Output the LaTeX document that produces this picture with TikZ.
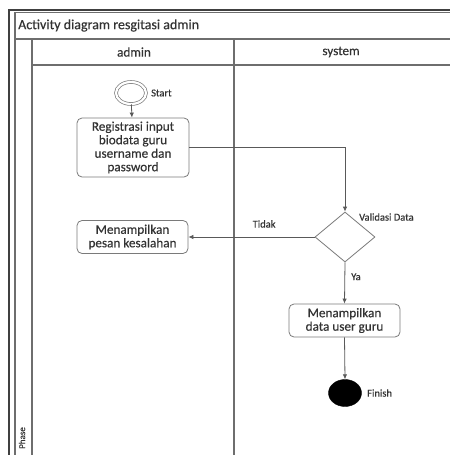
\documentclass[tikz,border=0pt]{standalone}
\usepackage{fontspec}
\setmainfont{Carlito}[FakeBold=0.35]
\usetikzlibrary{shapes.geometric,arrows.meta}
\definecolor{linegray}{HTML}{6E6E6E}
\definecolor{boxgray}{HTML}{7A7A7A}
\definecolor{textgray}{HTML}{333333}
\begin{document}
\begin{tikzpicture}[x=1pt,y=-1pt,
  outerline/.style={draw=black!75,line width=1.2pt},
  laneline/.style={draw=linegray,line width=1.1pt},
  activity/.style={draw=boxgray,line width=0.8pt,rounded corners=5pt,
    fill=white,align=center,inner sep=0pt,text=textgray,
    font=\fontsize{13.2}{13.5}\selectfont},
  decision/.style={diamond,draw=boxgray,line width=0.8pt,fill=white,inner sep=0pt,
    minimum width=60pt,minimum height=50pt},
  flow/.style={draw=black!65,line width=0.8pt,-{Latex[length=5pt,width=4.5pt]}},
  smalllabel/.style={font=\fontsize{10.5}{11}\selectfont,text=textgray,inner sep=0pt},
  headlabel/.style={font=\fontsize{13.2}{14}\selectfont,text=textgray,inner sep=0pt}]
\useasboundingbox (0,0) rectangle (450,455);
\fill[white] (0,0) rectangle (450,455);

% pool frame, title row, phase column and lane headers
\draw[outerline] (9,455) |- (450,10);
\draw[laneline] (15,455) |- (450,12.5);
\draw[laneline] (15,39) -- (450,39);
\draw[laneline] (32,455) -- (32,39);
\draw[laneline] (32,65) -- (450,65);
\draw[laneline] (234,455) -- (234,39);

\node[headlabel,anchor=west,font=\fontsize{14}{15}\selectfont] (title) at (18,25.5)
  {Activity diagram resgitasi admin};
\node[headlabel] (laneA) at (134,52) {admin};
\node[headlabel] (laneB) at (341,52) {system};
\node[smalllabel,rotate=90,font=\fontsize{9}{10}\selectfont] (phase) at (22,438) {Phase};

% flow nodes
\node[ellipse,draw=boxgray,line width=0.7pt,double=white,double distance=2.2pt,
  minimum width=30pt,minimum height=22pt,inner sep=0pt] (start) at (131,93) {};
\node[smalllabel,anchor=west] (startlbl) at (151,93) {Start};

\node[activity,minimum width=112pt,minimum height=59pt] (reg) at (133,147.5)
  {Registrasi input\\biodata guru\\username dan\\password};

\node[decision] (dec) at (345,237) {};
\node[smalllabel,anchor=west] (declbl) at (359,217) {Validasi Data};

\node[activity,minimum width=111pt,minimum height=33pt] (err) at (132.5,237)
  {Menampilkan\\pesan kesalahan};

\node[activity,minimum width=111pt,minimum height=33pt] (show) at (344.5,320.5)
  {Menampilkan\\data user guru};

\node[ellipse,fill=black,draw=black,minimum width=33pt,minimum height=27pt,inner sep=0pt]
  (finish) at (345,393) {};
\node[smalllabel,anchor=west] (finlbl) at (367,393) {Finish};

% connectors
\draw[flow] (start) -- (reg);
\draw[flow] (reg.east) -| (dec.north);
\draw[flow] (dec.west) -- node[smalllabel,above=9pt,pos=0.4] (tidak) {Tidak} (err.east);
\draw[flow] (dec.south) -- node[smalllabel,right=6pt,pos=0.35] (ya) {Ya} (show.north);
\draw[flow] (show.south) -- (finish.north);
\end{tikzpicture}
\end{document}
